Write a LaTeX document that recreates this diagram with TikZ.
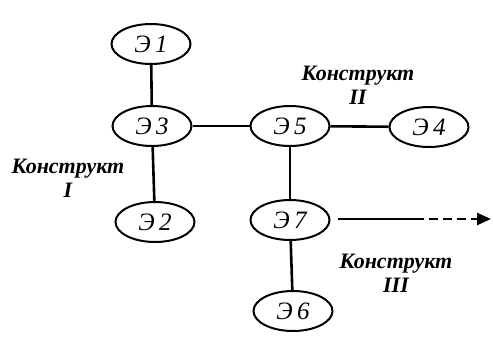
\documentclass[tikz,border=0pt]{standalone}
\usepackage{fontspec}
\setmainfont{Liberation Serif}
\usetikzlibrary{arrows.meta,shapes.geometric}
\begin{document}
\begin{tikzpicture}[x=1pt,y=-1pt,
  elem/.style={draw,ellipse,line width=2pt,minimum width=79pt,minimum height=40pt,inner sep=0pt,
    font=\fontsize{25}{26}\selectfont\itshape},
  conn/.style={line width=2.6pt},
  lbl/.style={align=center,font=\fontsize{22}{24}\selectfont\bfseries\itshape}]
\useasboundingbox (0,0) rectangle (493,343);
\node[elem] (e1) at (151,44) {Э\,1};
\node[elem] (e3) at (152,126) {Э\,3};
\node[elem] (e2) at (155,222) {Э\,2};
\node[elem] (e5) at (290,126) {Э\,5};
\node[elem] (e4) at (429,127) {Э\,4};
\node[elem] (e7) at (290,220) {Э\,7};
\node[elem] (e6) at (293,311) {Э\,6};
\draw[conn] (e1) -- (e3);
\draw[conn] (e3) -- (e2);
\draw[conn] (e3) -- (e5);
\draw[conn] (e5) -- (e4);
\draw[conn] (e5) -- (e7);
\draw[conn] (e7) -- (e6);
\coordinate (a0) at (338,219);
\coordinate (a1) at (415,219);
\coordinate (a2) at (491,219);
\draw[conn] (a0) -- (a1);
\draw[conn,dash pattern=on 9pt off 5pt,-{Triangle[length=14pt,width=12pt]}] (a1) -- (a2);
\node[lbl] (k1) at (68,178) {Конструкт\\I};
\node[lbl] (k2) at (358,85) {Конструкт\\II};
\node[lbl] (k3) at (396,273) {Конструкт\\III};
\end{tikzpicture}
\end{document}
